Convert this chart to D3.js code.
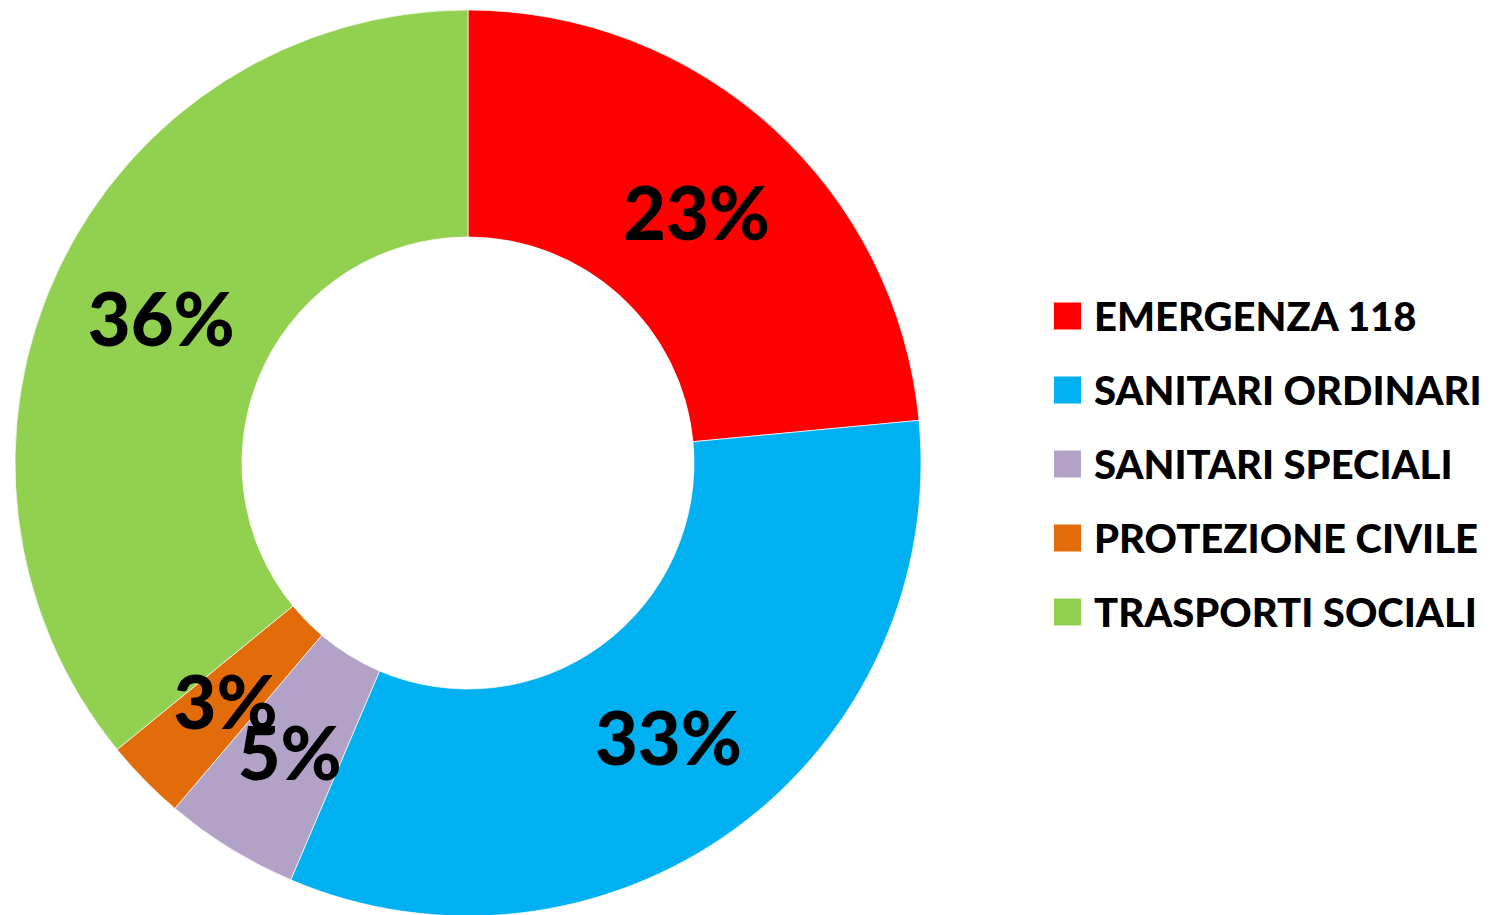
<!DOCTYPE html>
<html lang="en">
<head>
<meta charset="utf-8">
<title>Donut</title>
<style>
  body { margin: 0; background: #fff; font-family: Lato, "Open Sans", sans-serif; }
</style>
<script src="https://d3js.org/d3.v7.min.js"></script>
</head>
<body>
<div class="chart"></div>
<script>
// values (shares in %)
const categories = ["EMERGENZA 118", "SANITARI ORDINARI", "SANITARI SPECIALI", "PROTEZIONE CIVILE", "TRASPORTI SOCIALI"];
const values = [23.5, 32.9, 4.8, 2.9, 35.9];
const labels = ["23%", "33%", "5%", "3%", "36%"];
const colors = ["#FF0000", "#00B0F0", "#B2A2C7", "#E26B0A", "#92D050"];

const width = 1495, height = 915;
const cx = 468, cy = 463;
const outerR = 453, innerR = 226;

const svg = d3.select(".chart").append("svg")
    .attr("width", width)
    .attr("height", height);

const data = categories.map((c, i) => ({name: c, value: values[i], label: labels[i], color: colors[i]}));

const pie = d3.pie().sort(null).value(d => d.value);
const arc = d3.arc().innerRadius(innerR).outerRadius(outerR);
const labelArc = d3.arc().innerRadius((innerR + outerR) / 2).outerRadius((innerR + outerR) / 2);

const g = svg.append("g").attr("transform", `translate(${cx},${cy})`);
const arcs = pie(data);

g.selectAll("path")
    .data(arcs)
    .enter()
    .append("path")
    .attr("d", arc)
    .attr("fill", d => d.data.color)
    .attr("stroke", "#fff")
    .attr("stroke-width", 0.7);

g.selectAll("text")
    .data(arcs)
    .enter()
    .append("text")
    .attr("transform", d => `translate(${labelArc.centroid(d)})`)
    .attr("text-anchor", "middle")
    .attr("dy", "0.38em")
    .attr("font-size", 74)
    .attr("font-weight", 900)
    .attr("fill", "#000")
    .text(d => d.data.label);

// legend
const legend = svg.append("g").attr("transform", "translate(1054,316)");
const rowH = 74;
const rows = legend.selectAll("g")
    .data(data)
    .enter()
    .append("g")
    .attr("transform", (d, i) => `translate(0,${i * rowH})`);

rows.append("rect")
    .attr("x", 0)
    .attr("y", -13.5)
    .attr("width", 27)
    .attr("height", 27)
    .attr("fill", d => d.color);

rows.append("text")
    .attr("x", 40)
    .attr("dy", "0.37em")
    .attr("font-size", 40)
    .attr("font-weight", 900)
    .attr("fill", "#000")
    .text(d => d.name);
</script>
</body>
</html>
